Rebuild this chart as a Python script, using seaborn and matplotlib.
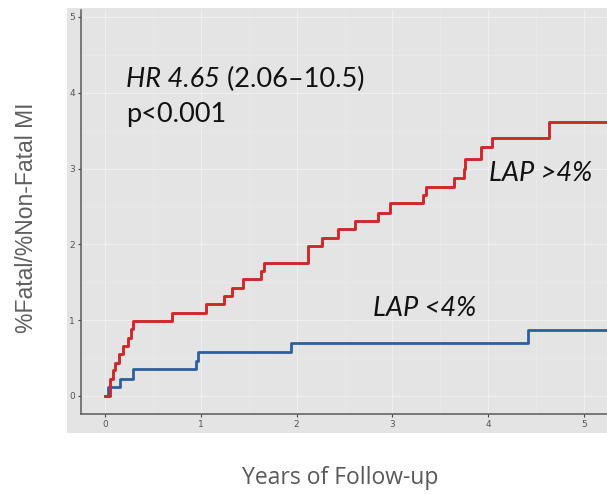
import matplotlib
matplotlib.use("Agg")
import matplotlib.pyplot as plt
import matplotlib.patches as mpatches
from matplotlib.ticker import MultipleLocator
import numpy as np
import pandas as pd
import seaborn as sns

# Cumulative incidence (%) of fatal / non-fatal MI by follow-up year
lap_high_years = [0, 0.05, 0.085, 0.105, 0.15, 0.19, 0.245, 0.27, 0.295, 0.70,
                  1.05, 1.245, 1.33, 1.44, 1.63, 1.66, 2.12, 2.26, 2.43, 2.61,
                  2.85, 2.98, 3.32, 3.35, 3.64, 3.75, 3.76, 3.93, 4.04, 4.63, 5.3]
lap_high_pct = [0, 0.23, 0.34, 0.44, 0.55, 0.66, 0.77, 0.88, 0.99, 1.10,
                1.21, 1.32, 1.43, 1.54, 1.65, 1.76, 1.98, 2.09, 2.20, 2.31,
                2.42, 2.54, 2.65, 2.76, 2.87, 2.99, 3.12, 3.28, 3.41, 3.61, 3.61]

lap_low_years = [0, 0.03, 0.157, 0.295, 0.945, 0.966, 1.94, 4.42, 5.3]
lap_low_pct = [0, 0.115, 0.23, 0.35, 0.46, 0.58, 0.70, 0.87, 0.87]

x_ticks = [0, 1, 2, 3, 4, 5]
y_ticks = [0, 1, 2, 3, 4, 5]

BG = "#e4e4e4"
RED = "#d0282a"
BLUE = "#2c5f9f"
TXT = 19.5

fig = plt.figure(figsize=(6.07, 4.95), dpi=100)
fig.patch.set_facecolor("white")

W, H = 607, 495
# grey plotting area (includes tick labels)
fig.patches.append(mpatches.Rectangle((67 / W, (H - 433) / H), 1 - 67 / W, (433 - 8) / H,
                                      transform=fig.transFigure, facecolor=BG,
                                      edgecolor="none", zorder=-10))

ax = fig.add_axes([81 / W, (H - 414) / H, (607 - 81) / W, (414 - 10) / H])
ax.set_zorder(1)
ax.set_facecolor(BG)

high = pd.DataFrame({"years": lap_high_years, "pct": lap_high_pct})
low = pd.DataFrame({"years": lap_low_years, "pct": lap_low_pct})

sns.lineplot(data=low, x="years", y="pct", ax=ax, color=BLUE, linewidth=2.0,
             drawstyle="steps-post", estimator=None, sort=False, zorder=3)
sns.lineplot(data=high, x="years", y="pct", ax=ax, color=RED, linewidth=2.1,
             drawstyle="steps-post", estimator=None, sort=False, zorder=4)

ax.set_xlim(-0.2505, 5.24)
ax.set_ylim(-0.2375, 5.092)
ax.set_xticks(x_ticks)
ax.set_yticks(y_ticks)
ax.xaxis.set_minor_locator(MultipleLocator(0.5))
ax.yaxis.set_minor_locator(MultipleLocator(0.5))
ax.grid(which="major", color="#efefef", linewidth=0.8)
ax.grid(which="minor", color="#eaeaea", linewidth=0.5)
ax.set_axisbelow(True)

for side in ["top", "right"]:
    ax.spines[side].set_visible(False)
for side in ["left", "bottom"]:
    ax.spines[side].set_color("#5a5a5a")
    ax.spines[side].set_linewidth(1.1)

ax.tick_params(which="major", length=2.5, width=0.8, color="#444444",
               labelsize=6.5, labelcolor="#555555", pad=2)
ax.tick_params(which="minor", length=0)
ax.set_xlabel("")
ax.set_ylabel("")

hr = ax.text(0.22, 4.17, "HR 4.65", fontsize=TXT, family="Lato", style="italic",
             color="#111111", va="center", ha="left")
ax.annotate(" (2.06–10.5)", xy=(1, 0.5), xycoords=hr, fontsize=TXT,
            family="Lato", color="#111111", va="center", ha="left")
ax.text(0.22, 3.71, "p<0.001", fontsize=TXT, family="Lato",
        color="#111111", va="center", ha="left")
ax.text(4.01, 2.94, "LAP >4%", fontsize=TXT, family="Lato", style="italic",
        color="#111111", va="center", ha="left")
ax.text(2.80, 1.15, "LAP <4%", fontsize=TXT, family="Lato", style="italic",
        color="#111111", va="center", ha="left")

fig.text(27 / W, 1 - 218 / H, "%Fatal/%Non-Fatal MI", rotation=90,
         fontsize=16.5, family="Liberation Sans", color="#5e5e5e",
         ha="center", va="center")
fig.text(340 / W, 1 - 478 / H, "Years of Follow-up", fontsize=16.5,
         family="Open Sans", color="#595959", ha="center", va="center")

fig.savefig("out.png", dpi=100, facecolor="white")
